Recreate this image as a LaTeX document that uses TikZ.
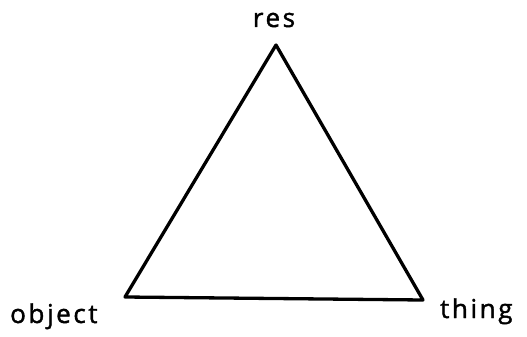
\documentclass[tikz,border=0pt]{standalone}
\usepackage{fontspec}
\setmainfont{Open Sans}[LetterSpace=10,FakeBold=1.5]
\begin{document}
\begin{tikzpicture}[x=1pt,y=-1pt,
  edge/.style={line width=3.3pt,line join=round,line cap=round,black},
  lbl/.style={inner sep=0pt,font=\fontsize{26}{30}\selectfont}]
\useasboundingbox (0,0) rectangle (527,337);
\coordinate (R) at (276,45);
\coordinate (O) at (125,297);
\coordinate (T) at (423,300);
\node[lbl,anchor=base] (res) at (274,27) {res};
\node[lbl,anchor=base west] (object) at (10,323) {object};
\node[lbl,anchor=base west] (thing) at (440,318) {thing};
\draw[edge] (R) -- (T) -- (O) -- cycle;
\end{tikzpicture}
\end{document}
